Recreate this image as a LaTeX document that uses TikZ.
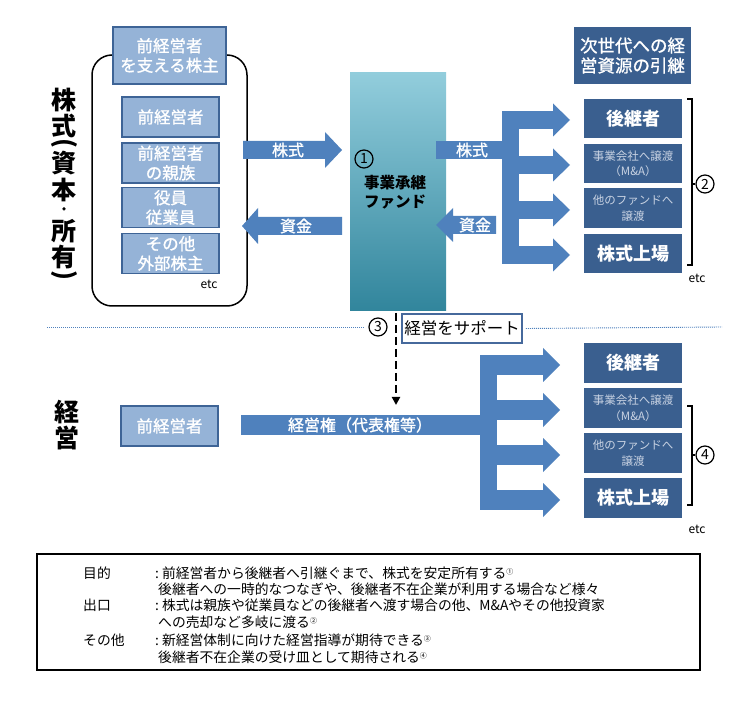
\documentclass[tikz,border=0pt]{standalone}
\usepackage{fontspec}
\setmainfont{Noto Sans CJK JP}
\newfontfamily\jpp[CharacterWidth=Proportional]{Noto Sans CJK JP}
\newfontfamily\jpm[FakeBold=1.2]{Noto Sans CJK JP}
\newfontfamily\jpdot[FakeBold=2.5]{Noto Sans CJK JP}
\usetikzlibrary{arrows.meta}
\definecolor{lboxfill}{HTML}{95B3D7}
\definecolor{lboxb}{HTML}{3E6496}
\definecolor{arr}{HTML}{4F81BD}
\definecolor{dboxfill}{HTML}{3A5F8F}
\definecolor{ftop}{HTML}{92CDDC}
\definecolor{fbot}{HTML}{31859C}
\definecolor{lighttxt}{HTML}{C9D3E3}
\definecolor{supb}{HTML}{46699C}
\newcommand\supc[1]{\raisebox{4pt}{\fontsize{7}{7}\selectfont #1}}
\begin{document}
\begin{tikzpicture}[x=1pt,y=-1pt,
  lbox/.style={draw=lboxb,line width=1.2pt,fill=lboxfill,text=white,align=center,inner sep=0pt,minimum width=97pt,minimum height=40pt,font=\jpm\fontsize{16.5}{19.5}\selectfont},
  dbox/.style={fill=dboxfill,text=white,align=center,inner sep=0pt,minimum width=98pt,minimum height=39.5pt},
  bigtxt/.style={font=\fontsize{18}{20}\selectfont\bfseries},
  smalltxt/.style={text=lighttxt,font=\fontsize{11.5}{15.5}\selectfont},
  cnum/.style={circle,draw,line width=1.2pt,minimum size=18pt,inner sep=0pt,font=\fontsize{14}{14}\selectfont},
  alabel/.style={text=white,inner sep=0pt,font=\jpm\fontsize{16}{16}\selectfont},
  vlab/.style={font=\fontsize{25}{25}\selectfont\bfseries,inner sep=0pt,text height=19pt,text depth=0pt},
  vpar/.style={font=\fontsize{25}{25}\selectfont\bfseries,inner sep=0pt,rotate=-90},
  note/.style={anchor=west,inner sep=0pt,font=\jpp\fontsize{13.8}{14}\selectfont},
  etcs/.style={font=\fontsize{12}{12}\selectfont,inner sep=0pt},
  brk/.style={line width=1.3pt},
]
\useasboundingbox (0,0) rectangle (742,703);
\fill[white] (0,0) rectangle (742,703);

% ---- left vertical labels
\node[vlab] (k1) at (64,100) {株};
\node[vlab] (k2) at (64,126) {式};
\node[vpar] (k3) at (64,144) {(};
\node[vlab] (k4) at (64,163) {資};
\node[vlab] (k5) at (64,190) {本};
\node[inner sep=0pt,font=\jpdot\fontsize{14}{14}\selectfont,text height=10.5pt,text depth=0pt] (k6) at (64,209) {・};
\node[vlab] (k7) at (64,231) {所};
\node[vlab] (k8) at (64,257) {有};
\node[vpar] (k9) at (64,276) {)};
\node[vlab] (m1) at (67,412) {経};
\node[vlab] (m2) at (67,438) {営};

% ---- shareholders group
\node[draw,line width=1.5pt,rounded corners=20pt,fill=white,minimum width=155pt,minimum height=251pt] (holders) at (169.5,180.5) {};
\node[lbox,minimum width=113pt,minimum height=57pt] (hhead) at (169.5,55.5) {前経営者\\を支える株主};
\node[lbox] (h1) at (170.5,117) {前経営者};
\node[lbox] (h2) at (170.5,163) {前経営者\\の親族};
\node[lbox] (h3) at (170.5,207.5) {役員\\従業員};
\node[lbox] (h4) at (170.5,253.5) {その他\\外部株主};
\node[etcs] (etc1) at (209,284) {etc};

% ---- fund
\node[minimum width=96pt,minimum height=238pt,top color=ftop,bottom color=fbot,inner sep=0pt] (fund) at (398,192) {};
\node[cnum] (c1) at (364,159) {1};
\node[align=center,inner sep=0pt,font=\fontsize{15.5}{19}\selectfont\bfseries] (fundt) at (395,192.5) {事業承継\\ファンド};

% ---- left block arrows
\fill[arr] (243,141) -- (325,141) -- (325,132) -- (342,150) -- (325,168) -- (325,159) -- (243,159) -- cycle;
\node[alabel] (a1) at (288,150) {株式};
\fill[arr] (342,217) -- (258,217) -- (258,208) -- (242,226) -- (258,244) -- (258,235) -- (342,235) -- cycle;
\node[alabel] (a2) at (296,226) {資金};

% ---- right block arrows (top)
\fill[arr] (436,141) rectangle (503,159);
\fill[arr] (502,111) rectangle (519,264);
\foreach \c in {120,165,210,255}{
  \fill[arr] (518,\c-9) rectangle (553.5,\c+9);
  \fill[arr] (553,\c-16.5) -- (570,\c) -- (553,\c+16.5) -- cycle;
}
\node[alabel] (a3) at (472,150) {株式};
\fill[arr] (496,216) -- (453,216) -- (453,208) -- (436,225) -- (453,242) -- (453,234) -- (496,234) -- cycle;
\node[alabel] (a4) at (475,225) {資金};

% ---- right header and boxes (top)
\node[dbox,minimum width=117pt,minimum height=57pt,font=\jpm\fontsize{17.5}{20}\selectfont] (rhead) at (632.5,55.5) {次世代への経\\営資源の引継};
\node[dbox,bigtxt] (r1) at (633,118.5) {後継者};
\node[dbox,smalltxt] (r2) at (633,163.5) {事業会社へ譲渡\\（M\&A）};
\node[dbox,smalltxt] (r3) at (633,208) {他のファンドへ\\譲渡};
\node[dbox,bigtxt] (r4) at (633,253.5) {株式上場};
\draw[brk] (687,99) -- (692,99) -- (692,265) -- (687,265);
\coordinate (t2) at (692,184);
\node[cnum] (c2) at (705,184) {2};
\draw[brk] (t2) -- (c2.west);
\node[etcs] (etc2) at (697,278) {etc};

% ---- separator, support
\node[cnum] (c3) at (378,327) {3};
\node[draw=supb,line width=1.5pt,fill=white,minimum width=120pt,minimum height=29pt,inner sep=0pt,font=\fontsize{16.5}{16.5}\selectfont] (sup) at (462,328.5) {経営をサポート};
\coordinate (dl1) at (47,327);
\coordinate (dl2) at (722,327);
\draw[arr,line width=0.9pt,dash pattern=on 1pt off 1pt] (dl1) -- ([xshift=-4pt]c3.west);
\draw[arr,line width=0.9pt,dash pattern=on 1pt off 1pt] ([xshift=3pt]sup.east) -- (dl2);
\coordinate (ds) at (396,313);
\coordinate (de) at (396,405);
\draw[line width=2.8pt,dash pattern=on 8pt off 4pt,-{Triangle[length=8pt,width=8pt]}] (ds) -- (de);

% ---- bottom management
\node[lbox] (p1) at (169.5,426) {前経営者};
\fill[arr] (241,415) rectangle (481,435);
\fill[arr] (480,355) rectangle (497,510);
\foreach \c in {365,410,455,500}{
  \fill[arr] (496,\c-10) rectangle (543.5,\c+10);
  \fill[arr] (543,\c-17) -- (560,\c) -- (543,\c+17) -- cycle;
}
\node[alabel] (a5) at (360,425) {経営権（代表権等）};
\node[dbox,bigtxt] (b1) at (633,363) {後継者};
\node[dbox,smalltxt] (b2) at (633,408) {事業会社へ譲渡\\（M\&A）};
\node[dbox,smalltxt] (b3) at (633,453) {他のファンドへ\\譲渡};
\node[dbox,bigtxt] (b4) at (633,498) {株式上場};
\draw[brk] (687,406) -- (692,406) -- (692,505) -- (687,505);
\coordinate (t4) at (692,455);
\node[cnum] (c4) at (705,455) {4};
\draw[brk] (t4) -- (c4.west);
\node[etcs] (etc3) at (697,529) {etc};

% ---- notes
\node[draw,line width=1.5pt,minimum width=663pt,minimum height=116pt,inner sep=0pt] (notebox) at (368.5,612) {};
\node[note] (n1a) at (83,573) {目的};
\node[note] (n1b) at (155,573) {:\hspace{3pt}前経営者から後継者へ引継ぐまで、株式を安定所有する\supc{①}};
\node[note] (n1c) at (158,589) {後継者への一時的なつなぎや、後継者不在企業が利用する場合など様々};
\node[note] (n2a) at (83,605) {出口};
\node[note] (n2b) at (155,605) {:\hspace{3pt}株式は親族や従業員などの後継者へ渡す場合の他、M\&Aやその他投資家};
\node[note] (n2c) at (158,622) {への売却など多岐に渡る\supc{②}};
\node[note] (n3a) at (83,640) {その他};
\node[note] (n3b) at (155,640) {:\hspace{3pt}新経営体制に向けた経営指導が期待できる\supc{③}};
\node[note] (n3c) at (158,657) {後継者不在企業の受け皿として期待される\supc{④}};
\end{tikzpicture}
\end{document}
